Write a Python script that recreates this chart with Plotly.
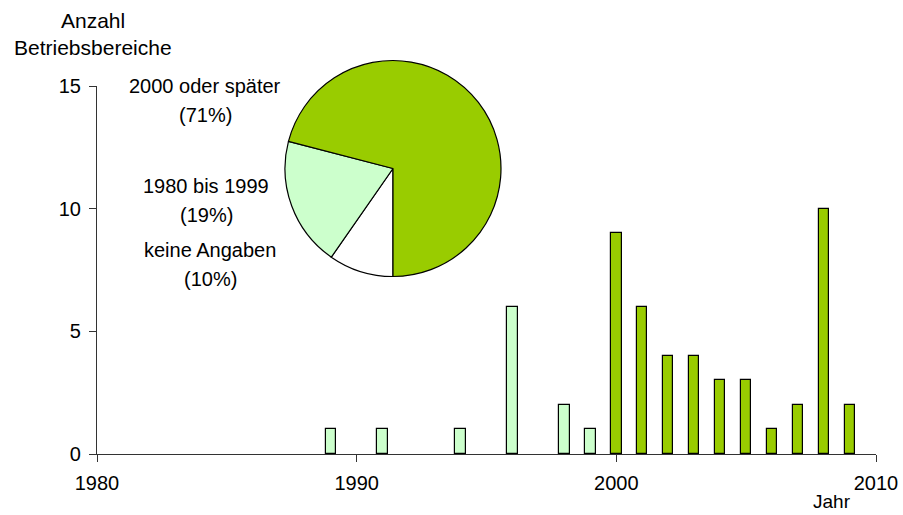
import plotly.graph_objects as go

# bars: year of first operation (Betriebsbereiche)
years_early = [1989, 1991, 1994, 1996, 1998, 1999]
counts_early = [1, 1, 1, 6, 2, 1]
years_late = [2000, 2001, 2002, 2003, 2004, 2005, 2006, 2007, 2008, 2009]
counts_late = [9, 6, 4, 4, 3, 3, 1, 2, 10, 2]

# pie: share by period
pie_labels = ["keine Angaben", "1980 bis 1999", "2000 oder später"]
pie_values = [6, 12, 44]
pie_colors = ["#FFFFFF", "#CCFFCC", "#99CC00"]

x_ticks = [1980, 1990, 2000, 2010]
y_ticks = [0, 5, 10, 15]

FONT = "Liberation Sans, Arial, sans-serif"

# plot area in pixels (for placing the free text)
L, R, T, B = 97, 876, 50, 454


def px(x, y):
    return (x - L) / (R - L), (B - y) / (B - T)


fig = go.Figure()
fig.add_trace(go.Bar(x=years_early, y=counts_early, width=0.4,
                     marker=dict(color="#CCFFCC", line=dict(color="black", width=1.2)),
                     hoverinfo="x+y"))
fig.add_trace(go.Bar(x=years_late, y=counts_late, width=0.4,
                     marker=dict(color="#99CC00", line=dict(color="black", width=1.2)),
                     hoverinfo="x+y"))

px0, py0 = px(285, 277)
px1, py1 = px(501, 60)
fig.add_trace(go.Pie(labels=pie_labels, values=pie_values, sort=False,
                     direction="clockwise", rotation=180,
                     marker=dict(colors=pie_colors, line=dict(color="black", width=1.2)),
                     textinfo="none", showlegend=False,
                     domain=dict(x=[px0, px1], y=[py0, py1])))

total = sum(pie_values)
annotations = []
label_pos = {"2000 oder später": (205, 86), "1980 bis 1999": (206, 186), "keine Angaben": (210, 250)}
for lab, val in zip(pie_labels, pie_values):
    cx, cy = label_pos[lab]
    for i, txt in enumerate([lab, "(%d%%)" % round(100 * val / total)]):
        ax, ay = px(cx, cy + 29 * i)
        annotations.append(dict(text=txt, x=ax, y=ay, xref="paper", yref="paper",
                                showarrow=False, xanchor="center", yanchor="middle",
                                font=dict(size=20, color="black")))

for i, txt in enumerate(["Anzahl", "Betriebsbereiche"]):
    ax, ay = px(93, 21 + 26 * i)
    annotations.append(dict(text=txt, x=ax, y=ay, xref="paper", yref="paper",
                            xanchor="center", yanchor="middle",
                            showarrow=False, font=dict(size=21, color="black")))
ax, ay = px(832, 501)
annotations.append(dict(text="Jahr", x=ax, y=ay, xref="paper", yref="paper",
                        xanchor="center", yanchor="middle", borderpad=0,
                        showarrow=False, font=dict(size=19, color="black")))

fig.update_layout(
    width=903, height=515,
    margin=dict(l=L, r=903 - R, t=T, b=515 - B),
    plot_bgcolor="white", paper_bgcolor="white",
    font=dict(family=FONT, size=20, color="black"),
    showlegend=False, bargap=0,
    annotations=annotations,
    xaxis=dict(range=[1980, 2010], tickvals=x_ticks, ticks="outside", ticklen=7,
               tickcolor="#333", showline=True, linecolor="#333", linewidth=1.2,
               showgrid=False, zeroline=False, automargin=False,
               ticklabelstandoff=4),
    yaxis=dict(range=[0, 15], tickvals=y_ticks, ticks="outside", ticklen=7,
               tickcolor="#333", showline=True, linecolor="#333", linewidth=1.2,
               showgrid=False, zeroline=False, ticklabelstandoff=4, automargin=False,
               domain=[0, (B - 86) / (B - T)]),
)

fig.write_html("out.html", config={"displayModeBar": False},
               post_script="document.body.style.margin='0';")
